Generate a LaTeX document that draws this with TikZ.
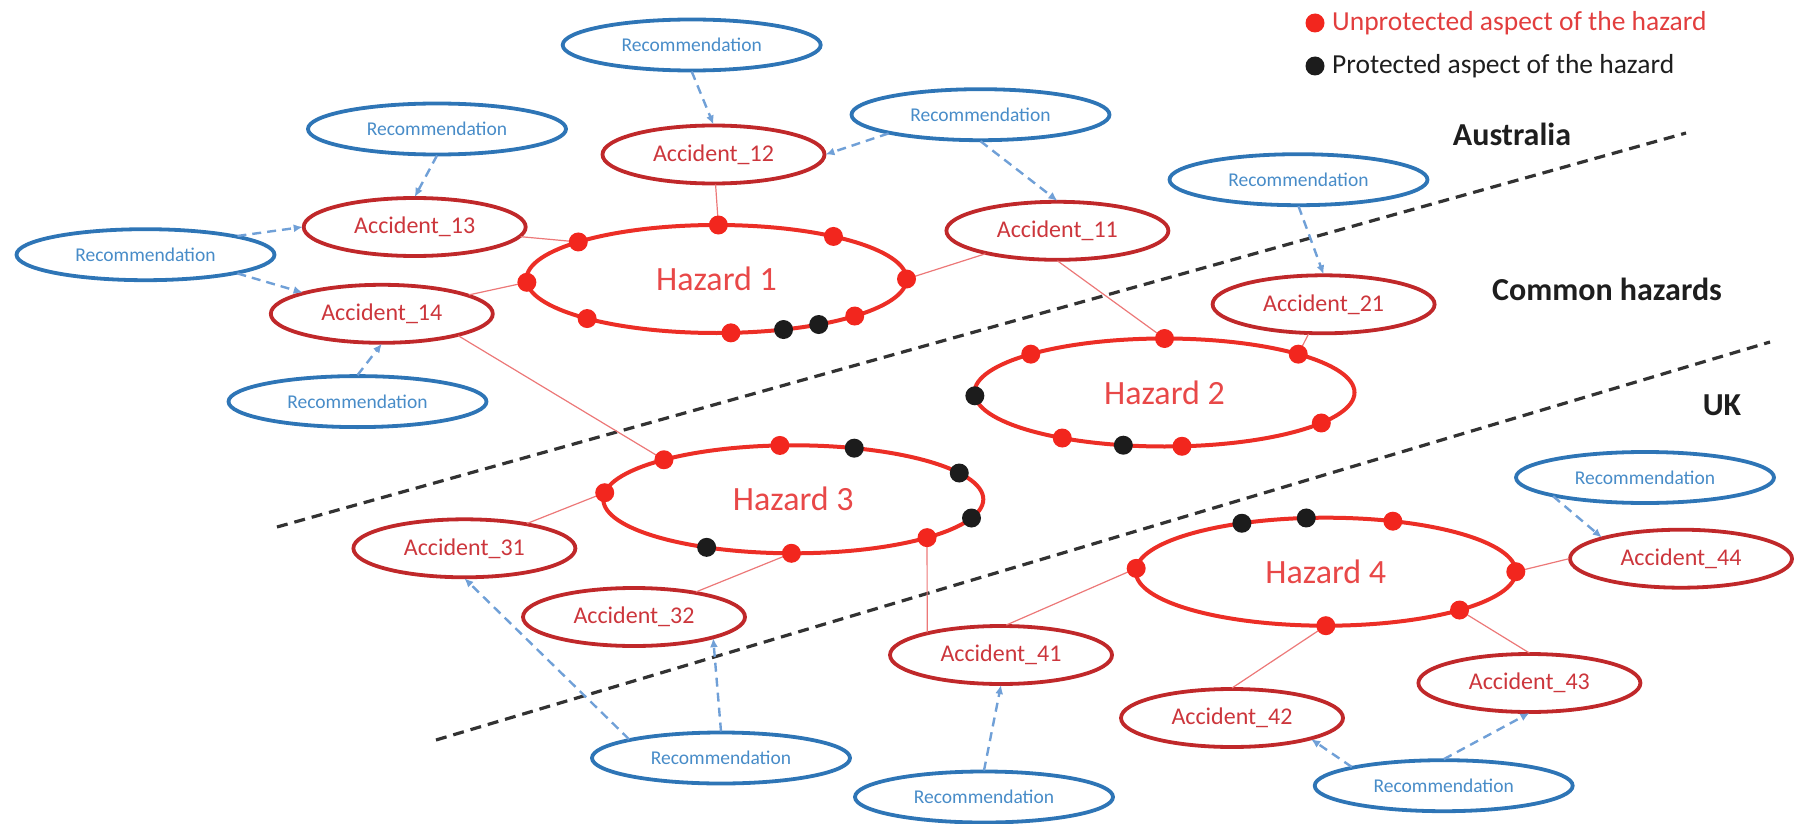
\documentclass[tikz,border=0pt]{standalone}
\usepackage{fontspec}
\setmainfont{Carlito}
\usetikzlibrary{arrows.meta,shapes.geometric}
\definecolor{hzred}{RGB}{236,46,38}
\definecolor{hztext}{RGB}{232,72,72}
\definecolor{dotred}{RGB}{242,38,30}
\definecolor{dotblack}{RGB}{28,28,28}
\definecolor{accred}{RGB}{192,40,42}
\definecolor{acctext}{RGB}{204,54,60}
\definecolor{recblue}{RGB}{46,117,182}
\definecolor{rectext}{RGB}{72,140,200}
\definecolor{arrblue}{RGB}{112,160,215}
\definecolor{connred}{RGB}{236,120,120}
\definecolor{sepgray}{RGB}{50,50,50}
\definecolor{legred}{RGB}{226,62,62}
\definecolor{labblack}{RGB}{30,30,30}
\begin{document}
\begin{tikzpicture}[x=1pt,y=-1pt,
  hazard/.style={ellipse, draw=hzred, line width=4pt, minimum width=380pt, minimum height=108pt, inner sep=0pt, outer sep=0pt, text=hztext, font=\fontsize{34}{40}\selectfont},
  acc/.style={ellipse, draw=accred, line width=3.8pt, minimum width=222pt, minimum height=58pt, inner sep=0pt, outer sep=1pt, text=acctext, font=\fontsize{24}{28}\selectfont},
  rec/.style={ellipse, draw=recblue, line width=3.8pt, minimum width=258pt, minimum height=51pt, inner sep=0pt, outer sep=1pt, text=rectext, font=\fontsize{19.5}{23}\selectfont},
  rdot/.style={circle, fill=dotred, inner sep=0pt, minimum size=19pt},
  bdot/.style={circle, fill=dotblack, inner sep=0pt, minimum size=19pt},
  conn/.style={draw=connred, line width=1.2pt},
  recarrow/.style={draw=arrblue, line width=2.4pt, dash pattern=on 9pt off 6pt, -{Latex[length=9pt,width=8pt]}},
  sepline/.style={draw=sepgray, line width=3.2pt, dash pattern=on 11pt off 7pt},
  region/.style={font=\bfseries\fontsize{32}{36}\selectfont, text=labblack},
  legtext/.style={anchor=west, inner sep=0pt, font=\fontsize{27.5}{32}\selectfont}
]
\useasboundingbox (0,0) rectangle (1794,824);

% separators
\coordinate (s1a) at (277,527);
\coordinate (s1b) at (1686,133);
\coordinate (s2a) at (436,740);
\coordinate (s2b) at (1770,342);
\draw[sepline] (s1a) -- (s1b);
\draw[sepline] (s2a) -- (s2b);

% region labels
\node[region] (lau) at (1512,134) {Australia};
\node[region] (lcom) at (1607,289) {Common hazards};
\node[region] (luk) at (1722,405) {UK};

% legend
\node[rdot] (lgr) at (1315,23) {};
\node[legtext, text=legred] (lgrt) at (1332,23) {Unprotected aspect of the hazard};
\node[bdot] (lgb) at (1315,66) {};
\node[legtext, text=labblack] (lgbt) at (1332,66) {Protected aspect of the hazard};

% hazards
\node[hazard] (h1) at (716.5,279) {Hazard 1};
\node[hazard] (h2) at (1164.5,392.5) {Hazard 2};
\node[hazard] (h3) at (793.3,499.3) {Hazard 3};
\node[hazard] (h4) at (1325.8,571.7) {Hazard 4};

% accidents
\node[acc] (a12) at (713.5,154.5) {Accident\_12};
\node[acc] (a13) at (414.7,227) {Accident\_13};
\node[acc] (a14) at (381.8,313.8) {Accident\_14};
\node[acc] (a11) at (1057.4,230.8) {Accident\_11};
\node[acc] (a21) at (1323.6,304.3) {Accident\_21};
\node[acc] (a31) at (464.4,548.3) {Accident\_31};
\node[acc] (a32) at (634,617) {Accident\_32};
\node[acc] (a41) at (1001,655) {Accident\_41};
\node[acc] (a42) at (1232,718) {Accident\_42};
\node[acc] (a43) at (1529.4,683) {Accident\_43};
\node[acc] (a44) at (1681,558.7) {Accident\_44};

% recommendations
\node[rec] (r12) at (691.7,45) {Recommendation};
\node[rec] (r13) at (437,129) {Recommendation};
\node[rec] (rl) at (145.5,254.7) {Recommendation};
\node[rec] (r14) at (357.5,401.6) {Recommendation};
\node[rec] (rtr) at (980.5,114.7) {Recommendation};
\node[rec] (r21) at (1298.5,179.7) {Recommendation};
\node[rec] (r3) at (721,758) {Recommendation};
\node[rec] (r41) at (984,797) {Recommendation};
\node[rec] (r4) at (1443.7,785.7) {Recommendation};
\node[rec] (r44) at (1645,477.5) {Recommendation};

% connectors hazard - accident
\draw[conn] (h1.88) -- (a12);
\draw[conn] (h1.165) -- (a13);
\draw[conn] (h1.181) -- (a14);
\draw[conn] (h1.0) -- (a11);
\draw[conn] (a11.south) -- (h2.90);
\draw[conn] (a14.-16) -- (h3.163.6);
\draw[conn] (h2.16.3) -- (a21);
\draw[conn] (h3.178.7) -- (a31);
\draw[conn] (h3.268.4) -- (a32);
\draw[conn] (h3.344) -- (a41.163);
\draw[conn] (h4.179.5) -- (a41.80);
\draw[conn] (h4.270) -- (a42.north);
\draw[conn] (h4.344) -- (a43.north);
\draw[conn] (h4.0.5) -- (a44.west);

% dots hazard 1
\node[rdot] (d1a) at (h1.165) {};
\node[rdot] (d1b) at (h1.88) {};
\node[rdot] (d1c) at (h1.20) {};
\node[rdot] (d1d) at (h1.181) {};
\node[rdot] (d1e) at (h1.0) {};
\node[rdot] (d1f) at (h1.197) {};
\node[rdot] (d1g) at (h1.285) {};
\node[rdot] (d1h) at (h1.345) {};
\node[bdot] (d1i) at (h1.323) {};
\node[bdot] (d1j) at (h1.336) {};
% dots hazard 2
\node[rdot] (d2a) at (h2.90) {};
\node[rdot] (d2b) at (h2.164.7) {};
\node[rdot] (d2c) at (h2.16.3) {};
\node[rdot] (d2d) at (h2.349.5) {};
\node[rdot] (d2e) at (h2.204.7) {};
\node[rdot] (d2f) at (h2.288) {};
\node[bdot] (d2g) at (h2.181.4) {};
\node[bdot] (d2h) at (h2.232) {};
% dots hazard 3
\node[rdot] (d3a) at (h3.163.6) {};
\node[rdot] (d3b) at (h3.104) {};
\node[rdot] (d3c) at (h3.344) {};
\node[rdot] (d3d) at (h3.268.4) {};
\node[rdot] (d3e) at (h3.178.7) {};
\node[bdot] (d3f) at (h3.40.5) {};
\node[bdot] (d3g) at (h3.9.2) {};
\node[bdot] (d3h) at (h3.354) {};
\node[bdot] (d3i) at (h3.209.5) {};
% dots hazard 4
\node[rdot] (d4a) at (h4.37.2) {};
\node[rdot] (d4b) at (h4.179.5) {};
\node[rdot] (d4c) at (h4.0.5) {};
\node[rdot] (d4d) at (h4.344) {};
\node[rdot] (d4e) at (h4.270) {};
\node[bdot] (d4f) at (h4.150) {};
\node[bdot] (d4g) at (h4.110) {};

% recommendation arrows
\draw[recarrow] (r12.south) -- (a12.north);
\draw[recarrow] (rtr.south west) -- (a12.east);
\draw[recarrow] (rtr.south) -- (a11.north);
\draw[recarrow] (r13.south) -- (a13.north);
\draw[recarrow] (rl.north east) -- (a13.west);
\draw[recarrow] (rl.south east) -- (a14.north west);
\draw[recarrow] (r14.north) -- (a14.south);
\draw[recarrow] (r21.south) -- (a21.north);
\draw[recarrow] (r3.north west) -- (a31.south);
\draw[recarrow] (r3.north) -- (a32.south east);
\draw[recarrow] (r41.north) -- (a41.south);
\draw[recarrow] (r4.north west) -- (a42.south east);
\draw[recarrow] (r4.north) -- (a43.south);
\draw[recarrow] (r44.south west) -- (a44.north west);
\end{tikzpicture}
\end{document}
